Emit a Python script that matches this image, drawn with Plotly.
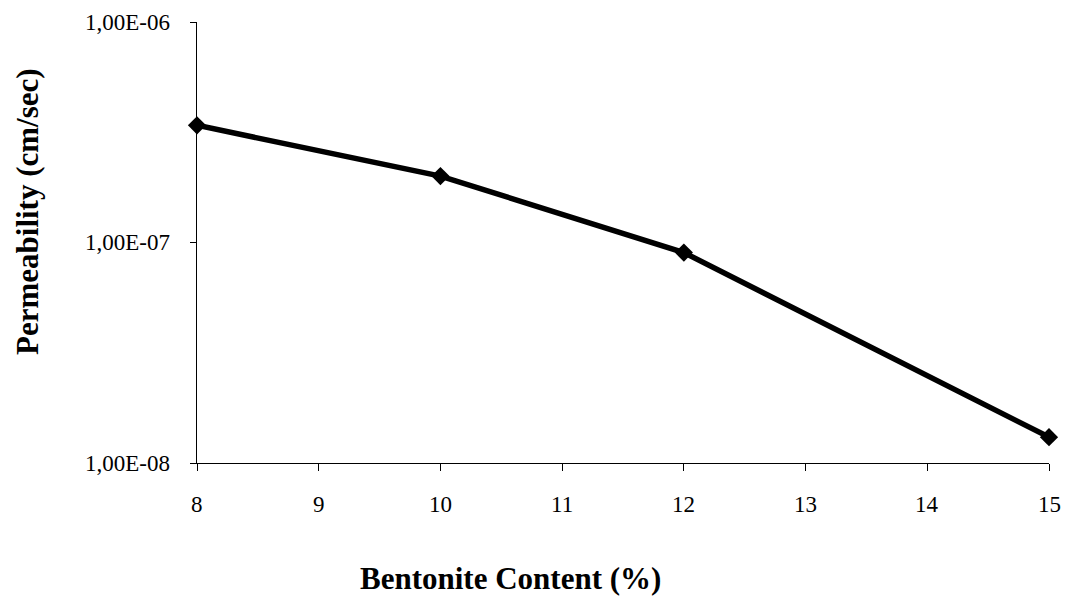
import plotly.graph_objects as go

# Bentonite content (%) and measured permeability (cm/sec)
bentonite_pct = [8, 10, 12, 15]
permeability = [3.4e-7, 2.0e-7, 9.0e-8, 1.31e-8]

x_ticks = [8, 9, 10, 11, 12, 13, 14, 15]
y_ticks = [1e-8, 1e-7, 1e-6]
y_tick_labels = ["1,00E-08", "1,00E-07", "1,00E-06"]

FONT = "Liberation Serif"
W, H = 1072, 596
L, R, T, B = 197, 23, 22, 133
PLOT_W, PLOT_H = W - L - R, H - T - B

TICK_FONT = dict(family=FONT, size=23, color="black")
TITLE_FONT = dict(family=FONT, size=31, color="black", weight="bold")

fig = go.Figure()
fig.add_trace(go.Scatter(
    x=bentonite_pct,
    y=permeability,
    mode="lines+markers",
    line=dict(color="black", width=5.5),
    marker=dict(symbol="diamond", size=14, color="black"),
    cliponaxis=False,
    showlegend=False,
))

fig.update_layout(
    width=W,
    height=H,
    margin=dict(l=L, r=R, t=T, b=B),
    paper_bgcolor="white",
    plot_bgcolor="white",
    font=dict(family=FONT, color="black", size=23),
)
fig.update_xaxes(
    range=[8, 15], tickmode="array", tickvals=x_ticks,
    showline=True, linecolor="black", linewidth=1,
    ticks="outside", ticklen=7, tickcolor="black", tickwidth=1,
    showticklabels=False,
    showgrid=False, zeroline=False,
)
fig.update_yaxes(
    type="log", range=[-8, -6],
    tickmode="array", tickvals=y_ticks,
    showline=True, linecolor="black", linewidth=1,
    ticks="outside", ticklen=6, tickcolor="black", tickwidth=1,
    showticklabels=False,
    showgrid=False, zeroline=False,
)

# Tick labels, anchored to the axis scales
for v in x_ticks:
    fig.add_annotation(
        text=str(v), x=v, xref="x",
        y=(H - 504 - B) / PLOT_H, yref="paper",
        xanchor="center", yanchor="middle", showarrow=False,
        font=TICK_FONT,
    )
for v, lab in zip(y_ticks, y_tick_labels):
    fig.add_annotation(
        text=lab, x=(172 - L) / PLOT_W, xref="paper",
        y=v, yref="y",
        xanchor="right", yanchor="middle", showarrow=False,
        font=TICK_FONT,
    )
# Log axes take annotation positions as log10 of the value
for ann in fig.layout.annotations:
    if ann.yref == "y":
        import math
        ann.y = math.log10(ann.y)


def to_paper(px, py):
    """Pixel position on the page -> paper coordinates."""
    return (px - L) / PLOT_W, (H - py - B) / PLOT_H


# Axis titles
xt_x, xt_y = to_paper(510, 578)
yt_x, yt_y = to_paper(28, 212)
fig.add_annotation(
    text="Bentonite Content (%)", x=xt_x, y=xt_y,
    xref="paper", yref="paper", xanchor="center", yanchor="middle",
    showarrow=False, font=TITLE_FONT,
)
fig.add_annotation(
    text="Permeability (cm/sec)", x=yt_x, y=yt_y,
    xref="paper", yref="paper", xanchor="center", yanchor="middle",
    showarrow=False, textangle=-90, font=TITLE_FONT,
)

fig.write_html("out.html")
